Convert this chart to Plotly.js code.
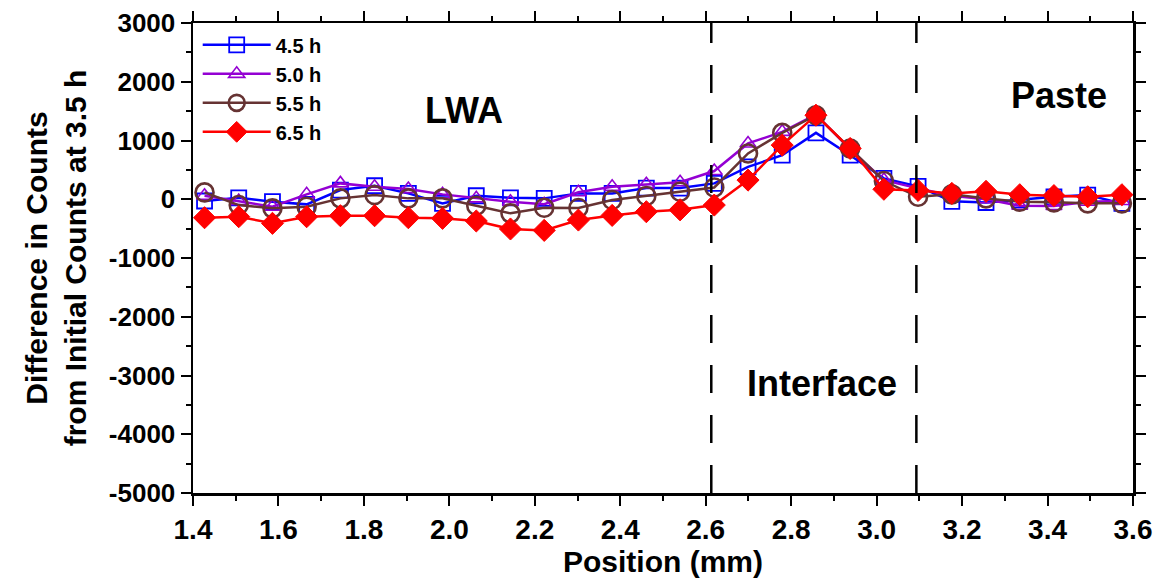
<!DOCTYPE html>
<html>
<head>
<meta charset="utf-8">
<script src="https://cdn.plot.ly/plotly-3.0.1.min.js"></script>
<style>html,body{margin:0;padding:0;background:#fff;}#chart{width:1160px;height:581px;}</style>
</head>
<body>
<div id="chart"></div>
<script>
const positions = [1.427, 1.507, 1.586, 1.666, 1.745, 1.825, 1.904, 1.984, 2.063, 2.143, 2.222, 2.302, 2.381, 2.461, 2.540, 2.620, 2.699, 2.779, 2.858, 2.938, 3.017, 3.097, 3.176, 3.256, 3.335, 3.415, 3.494, 3.574];
const seriesNames = ["4.5 h", "5.0 h", "5.5 h", "6.5 h"];
const h45 = [-30, 25, -42, -87, 156, 230, 100, -70, 60, 25, 15, 100, 100, 190, 190, 270, 550, 750, 1130, 750, 355, 220, -35, -55, -10, 42, 71, -70];
const h50 = [60, -30, -127, 83, 270, 213, 173, 83, 15, -42, -85, 120, 213, 255, 290, 480, 950, 1147, 1440, 850, 326, 185, 60, 0, -110, -115, -42, -30];
const h55 = [117, -99, -155, -127, 15, 71, 15, 15, -110, -240, -145, -150, -14, 55, 127, 200, 780, 1130, 1431, 865, 310, 42, 83, 15, -42, -53, -70, -70];
const h65 = [-314, -297, -410, -297, -280, -280, -314, -325, -370, -506, -530, -354, -275, -212, -180, -99, 326, 921, 1431, 865, 170, 150, 100, 135, 77, 62, 42, 77];
const boundaries = [2.613, 3.093];
const yTickVals = [-5000, -4000, -3000, -2000, -1000, 0, 1000, 2000, 3000];
const yTickText = ["-5000", "-4000", "-3000", "-2000", "-1000", "0", "1000", "2000", "3000"];
const regionLabels = [
  {text: "LWA", x: 2.034, y: 1516},
  {text: "Interface", x: 2.871, y: -3141},
  {text: "Paste", x: 3.426, y: 1771}
];

const F = "Arial, 'Liberation Sans', sans-serif";

const styles = [
  {color: "#0000FF", symbol: "square-open", size: 15, lw: 1.8},
  {color: "#9400D3", symbol: "triangle-up-open", size: 14, lw: 1.6},
  {color: "#663333", symbol: "circle-open", size: 18, lw: 2.6},
  {color: "#FF0000", symbol: "diamond", size: 17, lw: 1}
];
const data = [h45, h50, h55, h65].map((ys, i) => ({
  x: positions, y: ys, name: seriesNames[i], type: "scatter", mode: "lines+markers",
  line: {color: styles[i].color, width: 2.5},
  marker: {symbol: styles[i].symbol, size: styles[i].size, color: styles[i].color,
           line: {color: styles[i].color, width: styles[i].lw}}
}));

const shapes = boundaries.map(b => ({
  type: "line", xref: "x", yref: "paper", x0: b, x1: b, y0: 0, y1: 1,
  line: {color: "#000", width: 2.5, dash: "28px,22px"}
}));

const annotations = regionLabels.map(r => ({
  text: "<b>" + r.text + "</b>", x: r.x, y: r.y, xref: "x", yref: "y",
  showarrow: false, font: {family: F, size: 36, color: "#000"}
}));

const layout = {
  width: 1160, height: 581,
  margin: {l: 193, r: 27, t: 23, b: 88},
  paper_bgcolor: "#fff", plot_bgcolor: "#fff",
  showlegend: true,
  legend: {x: 0.005, y: 0.995, xanchor: "left", yanchor: "top", bgcolor: "rgba(0,0,0,0)",
           font: {family: F, size: 20, color: "#000", weight: "bold"}, tracegroupgap: 0, itemwidth: 68},
  xaxis: {
    range: [1.4, 3.6], dtick: 0.2, tick0: 1.4, tickformat: ".1f",
    showgrid: false, zeroline: false, showline: true, linecolor: "#000", linewidth: 2.5,
    mirror: "ticks", ticks: "outside", ticklen: 10, tickwidth: 2, tickcolor: "#000",
    minor: {dtick: 0.1, ticks: "outside", ticklen: 5, tickwidth: 2, tickcolor: "#000", showgrid: false},
    tickfont: {family: F, size: 28, color: "#000", weight: "bold"},
    title: {text: "<b>Position (mm)</b>", font: {family: F, size: 30, color: "#000"}, standoff: 4}
  },
  yaxis: {
    range: [-5000, 3000], tickmode: "array", tickvals: yTickVals, ticktext: yTickText,
    showgrid: false, zeroline: false, showline: true, linecolor: "#000", linewidth: 2.5,
    mirror: "ticks", ticks: "outside", ticklen: 10, tickwidth: 2, tickcolor: "#000",
    minor: {dtick: 500, tick0: 0, ticks: "outside", ticklen: 5, tickwidth: 2, tickcolor: "#000", showgrid: false},
    tickfont: {family: F, size: 26, color: "#000", weight: "bold"},
    title: {text: "<b>Difference in Counts<br>from Initial Counts at 3.5 h</b>", font: {family: F, size: 30, color: "#000"}, standoff: 14}
  },
  shapes: shapes,
  annotations: annotations
};

Plotly.newPlot("chart", data, layout, {displayModeBar: false, staticPlot: true});
</script>
</body>
</html>
